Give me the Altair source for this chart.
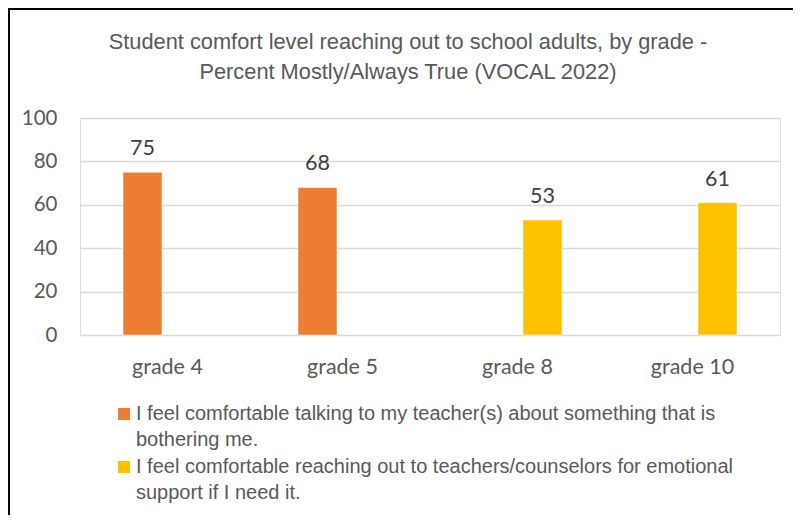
import altair as alt
import pandas as pd

grades = ["grade 4", "grade 5", "grade 8", "grade 10"]
series_names = [
    "I feel comfortable talking to my teacher(s) about something that is\nbothering me.",
    "I feel comfortable reaching out to teachers/counselors for emotional\nsupport if I need it.",
]
row_series = [series_names[0], series_names[0], series_names[1], series_names[1]]
values = [75, 68, 53, 61]
colors = ["#ED7D31", "#FFC000"]
title_lines = [
    "Student comfort level reaching out to school adults, by grade -",
    "Percent Mostly/Always True (VOCAL 2022)",
]

df = pd.DataFrame({"grade": grades, "series": row_series, "value": values})

W, H = 700, 217

x_enc = alt.X("grade:N", sort=grades, title=None,
              scale=alt.Scale(paddingInner=0, paddingOuter=0),
              axis=alt.Axis(labelAngle=0, labelFont="Lato", labelFontSize=21.5,
                            labelColor="#595959", ticks=False, domain=False,
                            labelPadding=21, grid=False))
xo_enc = alt.XOffset("series:N", sort=series_names,
                     scale=alt.Scale(domain=series_names, paddingInner=0.22, paddingOuter=0.86))
y_enc = alt.Y("value:Q", title=None,
              scale=alt.Scale(domain=[0, 100]),
              axis=alt.Axis(values=[0, 20, 40, 60, 80, 100], labelFont="Lato",
                            labelFontSize=20.5, labelColor="#595959", ticks=False,
                            domain=False, labelPadding=23, gridColor="#d9d9d9",
                            gridWidth=1.5))

base = alt.Chart(df)

bars = base.mark_bar(stroke="white", strokeWidth=0.5).encode(
    x=x_enc, xOffset=xo_enc, y=y_enc,
    color=alt.Color("series:N", sort=series_names,
                    scale=alt.Scale(domain=series_names, range=colors),
                    legend=alt.Legend(title=None, orient="none", legendX=34, legendY=286,
                                      direction="vertical", symbolType="square",
                                      symbolSize=144, symbolStrokeWidth=0,
                                      labelFont="Liberation Sans", labelFontSize=20,
                                      labelColor="#595959", labelLimit=800,
                                      labelExpr="split(datum.label, '\\n')",
                                      labelOffset=2, rowPadding=7)),
)

labels = base.mark_text(font="Lato", fontSize=21.5, color="#404040",
                        baseline="alphabetic", dy=-17).encode(
    x=alt.X("grade:N", sort=grades), xOffset=alt.XOffset("series:N", sort=series_names),
    y="value:Q", text="value:Q",
)

frame_data = alt.Data(values=[{}])
top_line = alt.Chart(frame_data).mark_rule(color="black", strokeWidth=2).encode(
    x=alt.value(-71), x2=alt.value(W + 13), y=alt.value(-109))
left_line = alt.Chart(frame_data).mark_rule(color="black", strokeWidth=2).encode(
    x=alt.value(-71), y=alt.value(-110), y2=alt.value(H + 180))

chart = alt.layer(bars, labels, top_line, left_line).properties(
    width=W, height=H,
    title=alt.TitleParams(text=title_lines, anchor="middle", font="Liberation Sans",
                          fontSize=21.8, fontWeight="normal", color="#595959",
                          lineHeight=30, offset=34, dy=111, dx=-22),
    autosize=alt.AutoSizeParams(type="none"),
    padding={"left": 72, "top": 110, "right": 13, "bottom": 180},
).configure_view(stroke=None).configure(
    background="white",
    style={"guide-label": {"lineHeight": 25.5}},
)

chart.save("out.html", embed_options={"renderer": "svg", "actions": False})
